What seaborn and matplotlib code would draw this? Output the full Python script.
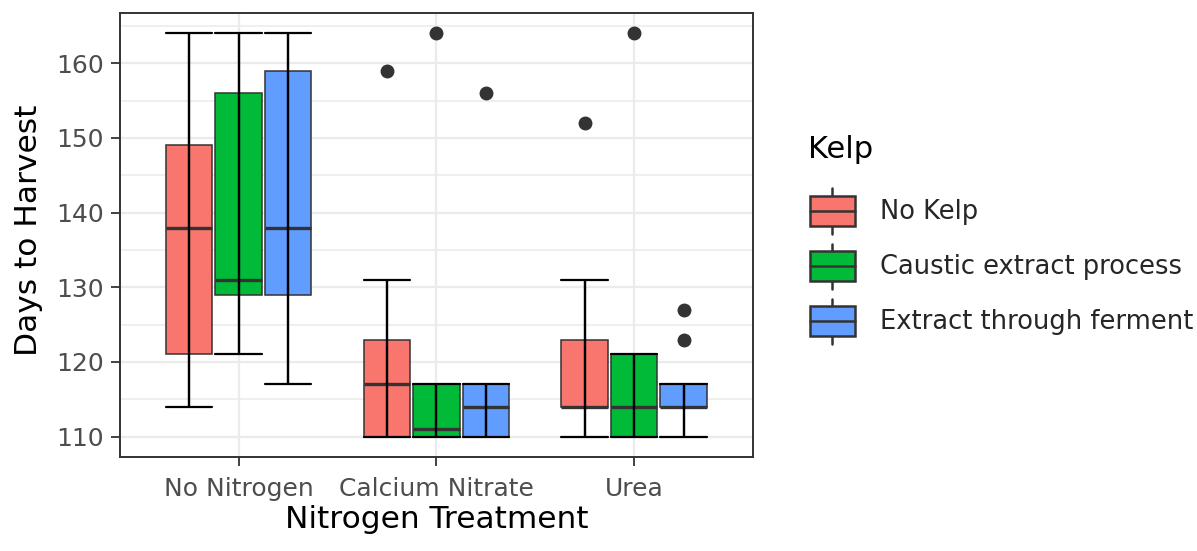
import numpy as np
import pandas as pd
import matplotlib
matplotlib.use('Agg')
import matplotlib.pyplot as plt
import seaborn as sns
from matplotlib.legend_handler import HandlerBase
from matplotlib.patches import Rectangle
from matplotlib.lines import Line2D

# categories
nitrogen_levels = ['No Nitrogen', 'Calcium Nitrate', 'Urea']
kelp_levels = ['No Kelp', 'Caustic extract process', 'Extract through ferment']
kelp_colors = ['#F8766D', '#00BA38', '#619CFF']

# days to harvest (one list per nitrogen x kelp group)
no_nitrogen_no_kelp = [114, 121, 138, 149, 164]
no_nitrogen_caustic = [121, 129, 131, 156, 164]
no_nitrogen_ferment = [117, 129, 138, 159, 164]
calcium_no_kelp = [110, 110, 110, 114, 117, 120, 123, 131, 159]
calcium_caustic = [110, 110, 110, 110, 111, 114, 117, 117, 164]
calcium_ferment = [110, 110, 114, 117, 156]
urea_no_kelp = [110, 112, 114, 114, 114, 118, 123, 131, 152]
urea_caustic = [110, 110, 114, 121, 164]
urea_ferment = [110, 112, 114, 114, 114, 116, 117, 123, 127]

groups = {
    ('No Nitrogen', 'No Kelp'): no_nitrogen_no_kelp,
    ('No Nitrogen', 'Caustic extract process'): no_nitrogen_caustic,
    ('No Nitrogen', 'Extract through ferment'): no_nitrogen_ferment,
    ('Calcium Nitrate', 'No Kelp'): calcium_no_kelp,
    ('Calcium Nitrate', 'Caustic extract process'): calcium_caustic,
    ('Calcium Nitrate', 'Extract through ferment'): calcium_ferment,
    ('Urea', 'No Kelp'): urea_no_kelp,
    ('Urea', 'Caustic extract process'): urea_caustic,
    ('Urea', 'Extract through ferment'): urea_ferment,
}

rows = []
for (nit, kelp), vals in groups.items():
    for v in vals:
        rows.append({'Nitrogen Treatment': nit, 'Kelp': kelp, 'Days to Harvest': v})
df = pd.DataFrame(rows)

sns.set_style('white')
plt.rcParams['font.family'] = ['DejaVu Sans']

fig = plt.figure(figsize=(11.97, 5.51), dpi=100)
ax = fig.add_axes([0.1003, 0.171, 0.5286, 0.805])

sns.boxplot(data=df, x='Nitrogen Treatment', y='Days to Harvest', hue='Kelp',
            order=nitrogen_levels, hue_order=kelp_levels, palette=kelp_colors,
            width=0.75, gap=0.06, saturation=1, linecolor='#333333', linewidth=1.1,
            capwidths=0.235,
            whiskerprops=dict(color='black', linewidth=1.6, zorder=2.5),
            capprops=dict(color='black', linewidth=1.6, zorder=2.5),
            medianprops=dict(color='#333333', linewidth=2.4),
            flierprops=dict(marker='o', markersize=9, markerfacecolor='#333333',
                            markeredgecolor='#333333'),
            legend=False, ax=ax)

# make the whiskers one errorbar running through the box, like geom errorbar
vert = {}
for ln in ax.lines:
    xd = np.asarray(ln.get_xdata(), dtype=float)
    if ln.get_linestyle() in ('None', '') or len(xd) != 2 or xd[0] != xd[1]:
        continue
    vert.setdefault(round(xd[0], 4), []).append(ln)
for x, lns in vert.items():
    ys = np.concatenate([np.asarray(l.get_ydata(), dtype=float) for l in lns])
    for l in lns:
        l.set_ydata([ys.min(), ys.max()])

ax.set_xlim(-0.6, 2.6)
ax.set_ylim(107.3, 166.7)
ax.set_yticks([110, 120, 130, 140, 150, 160])
ax.set_yticks([115, 125, 135, 145, 155, 165], minor=True)
ax.grid(True, which='major', color='#EBEBEB', linewidth=1.6, zorder=0)
ax.grid(True, which='minor', axis='y', color='#EBEBEB', linewidth=1.1, zorder=0)
ax.set_axisbelow(True)
for sp in ax.spines.values():
    sp.set_color('#333333')
    sp.set_linewidth(1.4)
    sp.set_visible(True)
ax.tick_params(axis='both', which='major', length=6.5, width=1.3, color='#333333',
               labelcolor='#4D4D4D', labelsize=18, pad=5, left=True, bottom=True)
ax.tick_params(axis='x', which='major', pad=8)
ax.tick_params(axis='y', which='minor', length=0)
ax.set_xlabel('Nitrogen Treatment', fontsize=22.5, color='black')
ax.set_ylabel('Days to Harvest', fontsize=22.5, color='black')
ax.xaxis.set_label_coords(0.5, -0.108)
ax.yaxis.set_label_coords(-0.122, 0.51)


class BoxKey(HandlerBase):
    def create_artists(self, legend, orig_handle, xdescent, ydescent, width, height,
                       fontsize, trans):
        x0, y0 = -xdescent, -ydescent
        cx = x0 + width / 2
        box = Rectangle((x0 + 0.1 * width, y0 + 0.23 * height), 0.8 * width, 0.54 * height,
                        facecolor=orig_handle.get_facecolor(), edgecolor='#333333',
                        linewidth=1.8, transform=trans)
        med = Line2D([x0 + 0.1 * width, x0 + 0.9 * width], [y0 + 0.5 * height] * 2,
                     color='#333333', linewidth=1.8, transform=trans)
        w1 = Line2D([cx, cx], [y0 + 0.09 * height, y0 + 0.23 * height],
                    color='#333333', linewidth=1.8, transform=trans)
        w2 = Line2D([cx, cx], [y0 + 0.77 * height, y0 + 0.91 * height],
                    color='#333333', linewidth=1.8, transform=trans)
        return [w1, w2, box, med]


handles = [Rectangle((0, 0), 1, 1, facecolor=c) for c in kelp_colors]
leg = fig.legend(handles, kelp_levels, loc='center left',
                 bbox_to_anchor=(0.6717, 0.517), frameon=False, fontsize=18.5,
                 handlelength=2.19, handleheight=2.92,
                 labelspacing=0.0, handletextpad=0.75, borderpad=0, borderaxespad=0,
                 handler_map={Rectangle: BoxKey()})
fig.text(808 / 1197, 1 - 158 / 551, 'Kelp', fontsize=22, color='black',
         ha='left', va='baseline')

fig.savefig('out.png', dpi=100)
